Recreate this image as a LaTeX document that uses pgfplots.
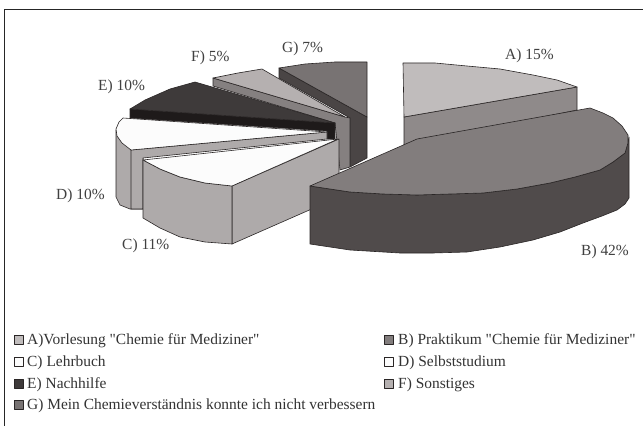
\documentclass[border=0pt]{standalone}
\usepackage{fontspec}
\setmainfont{Liberation Serif}
\newfontfamily\plainf{Liberation Serif}
\usepackage{pgfplots}
\pgfplotsset{compat=1.18}
\definecolor{Atop}{HTML}{C0BCBC}\definecolor{Aside}{HTML}{8F8A8A}
\definecolor{Btop}{HTML}{827D7D}\definecolor{Bside}{HTML}{504B4B}
\definecolor{Ctop}{HTML}{FCFCFC}\definecolor{Cside}{HTML}{AEAAAA}
\definecolor{Etop}{HTML}{3E3A3A}\definecolor{Eside}{HTML}{1E1A1A}
\definecolor{Ftop}{HTML}{B5B0B0}\definecolor{Fside}{HTML}{858080}
\definecolor{Gtop}{HTML}{787373}\definecolor{Gside}{HTML}{4A4545}
\definecolor{edge}{HTML}{2A2626}
\tikzset{face/.style={draw=edge,line width=0.6pt,line join=round,fill=#1},
  lab/.style={anchor=base west,font=\plainf\fontsize{15.5}{18}\selectfont,text=black!75,inner sep=0pt},
  leg/.style={anchor=base west,font=\plainf\fontsize{15.5}{18}\selectfont,text=black!80,inner sep=0pt}}
\begin{document}
\begin{tikzpicture}
\begin{axis}[scale only axis,width=643bp,height=426bp,xmin=0,xmax=643,ymin=0,ymax=426,y dir=reverse,axis lines=none,clip=true]
% frame
\addplot[draw=none,fill=white] coordinates {(0,0)(643,0)(643,426)(0,426)} --cycle;
\addplot[black!85,line width=0.8pt] coordinates {(4,426)(4,9)(643,9)};
% G
\addplot[face=Gside] coordinates {(279,68)(279,78)(350,118)(350,167)(367,158)(367,117)} --cycle;
\addplot[face=Gtop] coordinates {(279,68)(305,64)(335,62)(367,62)(367,117)} --cycle;
% F
\addplot[face=Fside] coordinates {(213,78)(213,86)(335,123)(340,170)(350,167)(350,118)(345,117)} --cycle;
\addplot[face=Ftop] coordinates {(213,78)(238,73)(262,69)(345,117)} --cycle;
% E
\addplot[face=Eside] coordinates {(130,109)(130,118)(327,131)(327,139)(335,139)(335,123)} --cycle;
\addplot[face=Etop] coordinates {(130,109)(145,100)(170,89)(195,82)(335,123)} --cycle;
% D
\addplot[face=Cside] coordinates {(116,130)(116,197)(120,205)(130,209)(143,209)(143,150)(131,150)} --cycle;
\addplot[face=Cside] coordinates {(131,150)(327,132)(327,139)(143,158)(143,209)(131,209)} --cycle;
\addplot[face=Ctop] coordinates {(123,118)(327,132)(131,150)(122,143)(117,136)(116,129)(119,122)} --cycle;
% C
\addplot[face=Cside] coordinates {(232,186)(232,244)(339,197)(339,139)} --cycle;
\addplot[face=Cside] coordinates {(143,160)(143,218)(160,228)(180,237)(205,242)(232,244)(232,186)(205,183)(180,177)(160,169)} --cycle;
\addplot[face=Ctop] coordinates {(143,160)(160,169)(180,177)(205,183)(232,186)(338,139)} --cycle;
% A
\addplot[face=Aside] coordinates {(404,117)(404,146)(577,110)(577,87)} --cycle;
\addplot[face=Atop] coordinates {(403,63)(435,63)(467,66)(500,69)(533,75)(557,80)(577,87)(404,117)} --cycle;
% B
\addplot[face=Bside] coordinates {(310,186)(310,244)(350,250)(400,253)(433,253)(467,252)(500,247)(533,240)(560,232)(583,223)(602,216)(617,210)(625,204)(629,198)(629,137)(625,153)(613,162)(600,170)(575,177)(550,183)(517,189)(483,193)(450,194)(417,195)(383,194)(350,192)} --cycle;
\addplot[face=Btop] coordinates {(310,186)(417,139)(590,108)(603,113)(613,118)(622,126)(628,135)(628,143)(625,153)(613,162)(600,170)(575,177)(550,183)(517,189)(483,193)(450,194)(417,195)(383,194)(350,192)} --cycle;
% labels
\node[lab] at (axis cs:505,60) {A) 15\%};
\node[lab] at (axis cs:581,255) {B) 42\%};
\node[lab] at (axis cs:122,249) {C) 11\%};
\node[lab] at (axis cs:56,199) {D) 10\%};
\node[lab] at (axis cs:98,91) {E) 10\%};
\node[lab] at (axis cs:191,62) {F) 5\%};
\node[lab] at (axis cs:282,53) {G) 7\%};
% legend
\addplot[face=Atop] coordinates {(14,335)(23,335)(23,344)(14,344)} --cycle;
\addplot[face=Btop] coordinates {(384,335)(393,335)(393,344)(384,344)} --cycle;
\addplot[face=Ctop] coordinates {(14,357)(23,357)(23,366)(14,366)} --cycle;
\addplot[face=Ctop] coordinates {(384,357)(393,357)(393,366)(384,366)} --cycle;
\addplot[face=Etop] coordinates {(14,379)(23,379)(23,388)(14,388)} --cycle;
\addplot[face=Ftop] coordinates {(384,379)(393,379)(393,388)(384,388)} --cycle;
\addplot[face=Gtop] coordinates {(14,400)(23,400)(23,409)(14,409)} --cycle;
\node[leg] at (axis cs:27,344) {A)Vorlesung "Chemie für Mediziner"};
\node[leg] at (axis cs:398,344) {B) Praktikum "Chemie für Mediziner"};
\node[leg] at (axis cs:27,366) {C) Lehrbuch};
\node[leg] at (axis cs:398,366) {D) Selbststudium};
\node[leg] at (axis cs:27,388) {E) Nachhilfe};
\node[leg] at (axis cs:398,388) {F) Sonstiges};
\node[leg] at (axis cs:27,409) {G) Mein Chemieverständnis konnte ich nicht verbessern};
\end{axis}
\end{tikzpicture}
\end{document}
